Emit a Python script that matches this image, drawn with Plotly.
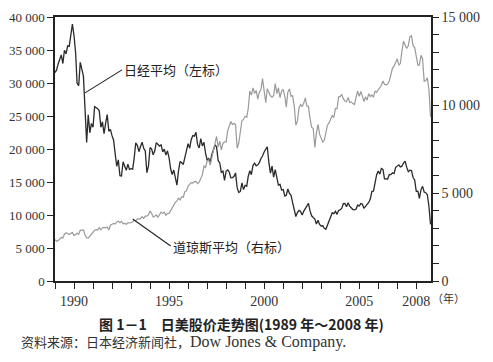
import plotly.graph_objects as go
import pandas as pd

# Monthly closes, Jan 1989 - Oct 2008
months = pd.date_range("1989-01-01", "2008-10-01", freq="MS")

nikkei = [
    31581, 31986, 32839, 33714, 34267, 32949, 34954, 34431, 35637, 35549, 37269, 38916,
    37189, 34592, 29980, 29585, 33131, 31940, 31036, 25978, 20984, 25194, 22455, 23849,
    23293, 26409, 26292, 26111, 25790, 23291, 24121, 22336, 23916, 25222, 22688, 22984,
    22023, 21339, 19346, 17391, 18348, 15952, 15910, 18061, 17399, 16768, 17683, 16925,
    17024, 16953, 18591, 20919, 20552, 19590, 20380, 21027, 20106, 19704, 16408, 17417,
    20229, 19997, 19112, 19725, 20974, 20644, 20448, 20629, 19564, 19990, 19076, 19723,
    18650, 16964, 16140, 16807, 15437, 14517, 16678, 18117, 17913, 17655, 18744, 19868,
    20813, 20125, 21407, 22041, 21956, 22531, 20693, 20167, 21556, 20467, 21020, 19361,
    18330, 18557, 18003, 19151, 20069, 20605, 20331, 18229, 17888, 16459, 16636, 15259,
    16628, 16832, 16527, 15641, 15671, 15831, 16379, 14108, 13406, 13565, 14883, 13842,
    14499, 14368, 15837, 16702, 16112, 17530, 17862, 17437, 17605, 17942, 18558, 18934,
    19540, 19960, 20337, 17974, 16332, 17411, 15727, 16861, 15747, 14539, 14649, 13786,
    13844, 12884, 12999, 13934, 13262, 12969, 11861, 10714, 9775, 10367, 10697, 10543,
    9998, 10588, 11025, 11493, 11764, 10622, 9877, 9619, 9383, 8640, 9216, 8579,
    8340, 8363, 7973, 7831, 8425, 9083, 9563, 10344, 10219, 10560, 10101, 10677,
    10784, 11042, 11715, 11762, 11236, 11859, 11326, 11082, 10824, 10771, 10899, 11489,
    11388, 11741, 11669, 11009, 11277, 11584, 11900, 12414, 13574, 13607, 14872, 16111,
    16650, 16205, 17060, 16906, 15467, 15505, 15457, 16141, 16128, 16399, 16274, 17226,
    17383, 17604, 17288, 17400, 17876, 18138, 17249, 16569, 16786, 16738, 15681, 15308,
    13592, 13603, 12526, 13850, 14339, 13481, 13377, 13073, 11260, 8577,
]

dow = [
    2342, 2258, 2293, 2419, 2480, 2440, 2661, 2737, 2693, 2645, 2706, 2753,
    2591, 2627, 2707, 2657, 2877, 2881, 2905, 2614, 2453, 2442, 2560, 2634,
    2736, 2882, 2914, 2888, 3028, 2907, 3025, 3044, 3017, 3069, 2895, 3169,
    3224, 3267, 3236, 3359, 3397, 3319, 3394, 3257, 3272, 3226, 3305, 3301,
    3310, 3371, 3435, 3428, 3527, 3516, 3540, 3651, 3555, 3681, 3684, 3754,
    3978, 3832, 3636, 3682, 3758, 3625, 3765, 3913, 3843, 3908, 3739, 3834,
    3844, 4011, 4158, 4321, 4465, 4556, 4708, 4611, 4789, 4756, 5075, 5117,
    5395, 5486, 5587, 5569, 5643, 5655, 5529, 5616, 5882, 6029, 6522, 6448,
    6813, 6878, 6584, 7009, 7331, 7673, 8223, 7622, 7945, 7442, 7823, 7908,
    7907, 8546, 8800, 9063, 8900, 8952, 8883, 7539, 7843, 8592, 9117, 9181,
    9359, 9307, 9786, 10789, 10560, 10971, 10655, 10829, 10337, 10730, 10878, 11497,
    10941, 10128, 10922, 10734, 10522, 10448, 10522, 11215, 10651, 10971, 10415, 10787,
    10887, 10495, 9879, 10735, 10912, 10502, 10523, 9950, 8848, 9075, 9852, 10022,
    9920, 10106, 10404, 9946, 9925, 9243, 8737, 8664, 7592, 8397, 8896, 8342,
    8054, 7891, 7992, 8480, 8850, 8985, 9234, 9416, 9275, 9801, 9782, 10454,
    10488, 10584, 10358, 10226, 10188, 10435, 10140, 10174, 10080, 10027, 10428, 10783,
    10490, 10766, 10504, 10193, 10467, 10275, 10641, 10482, 10569, 10440, 10806, 10718,
    10865, 10993, 11109, 11367, 11168, 11150, 11186, 11381, 11679, 12081, 12222, 12463,
    12622, 12269, 12354, 13063, 13628, 13409, 13212, 13358, 13896, 13930, 13372, 13265,
    12650, 12266, 12263, 12820, 12638, 11350, 11378, 11544, 10851, 9325,
]

year_ticks = [f"{y}-01-01" for y in range(1989, 2009)]
year_labels = ["" if y not in (1990, 1995, 2000, 2005, 2008) else str(y) for y in range(1989, 2009)]

left_vals = list(range(0, 40001, 5000))
left_text = ["0" if v == 0 else f"{v // 1000} 000" for v in left_vals]
right_vals = list(range(0, 15001, 1000))
right_text = [("0" if v == 0 else f"{v // 1000} 000") if v % 5000 == 0 else "" for v in right_vals]

serif = "Liberation Serif"
cjk = "Noto Sans CJK SC"

fig = go.Figure()
fig.add_trace(go.Scatter(x=months, y=dow, mode="lines", yaxis="y2",
                         line=dict(color="#9a9a9a", width=1.2), showlegend=False))
fig.add_trace(go.Scatter(x=months, y=nikkei, mode="lines", yaxis="y",
                         line=dict(color="#2a2a2a", width=1.3), showlegend=False))

axis_common = dict(ticks="outside", ticklen=6, tickwidth=1.2, tickcolor="#222",
                   showline=True, linecolor="#222", linewidth=1.5,
                   showgrid=False, zeroline=False, automargin=False)

# page body has an 8px margin, so the figure is 8px smaller and offsets reduced
fig.update_layout(
    width=485, height=354,
    margin=dict(l=47, r=62, t=9, b=81, autoexpand=False),
    paper_bgcolor="white", plot_bgcolor="white",
    font=dict(family=serif, size=14, color="#222"),
    xaxis=dict(type="date", range=["1989-01-01", "2008-10-10"],
               tickvals=year_ticks, ticktext=year_labels, mirror=True,
               tickfont=dict(family=serif, size=14, color="#333"),
               **axis_common),
    yaxis=dict(range=[0, 40000], tickvals=left_vals, ticktext=left_text,
               tickfont=dict(family=serif, size=13, color="#333"),
               **axis_common),
    yaxis2=dict(range=[0, 15000], overlaying="y", side="right",
                tickvals=right_vals, ticktext=right_text,
                tickfont=dict(family=serif, size=14, color="#333"),
                **axis_common),
)

fig.add_annotation(x="1990-08-01", y=28500, xref="x", yref="y",
                   text="日经平均（左标）", showarrow=True, arrowhead=0,
                   arrowwidth=1.1, arrowcolor="#222", ax=37, ay=-23,
                   xanchor="left", yanchor="middle",
                   font=dict(family=cjk, size=13, color="#222"))
fig.add_annotation(x="1993-02-01", y=3520, xref="x", yref="y2",
                   text="道琼斯平均（右标）", showarrow=True, arrowhead=0,
                   arrowwidth=1.1, arrowcolor="#222", ax=38, ay=27,
                   xanchor="left", yanchor="middle",
                   font=dict(family=cjk, size=13, color="#222"))

fig.add_annotation(xref="paper", yref="paper", x=1.0, y=-0.066,
                   text="（年）", showarrow=False, xanchor="left", yanchor="middle",
                   borderpad=0,
                   font=dict(family=cjk, size=11, color="#333"))

fig.add_annotation(xref="paper", yref="paper", x=0.497, y=-0.163,
                   text="<b>图 1－1　日美股价走势图(1989 年～2008 年)</b>",
                   showarrow=False, xanchor="center", yanchor="middle",
                   font=dict(family=cjk, size=14, color="#222"))
fig.add_annotation(xref="paper", yref="paper", x=-0.095, y=-0.231,
                   text="资料来源：日本经济新闻社，<span style='font-family:Liberation Serif;font-size:16px'>Dow Jones &amp; Company.</span>",
                   showarrow=False, xanchor="left", yanchor="middle",
                   font=dict(family=cjk, size=13, color="#333"))

fig.write_html("out.html")
